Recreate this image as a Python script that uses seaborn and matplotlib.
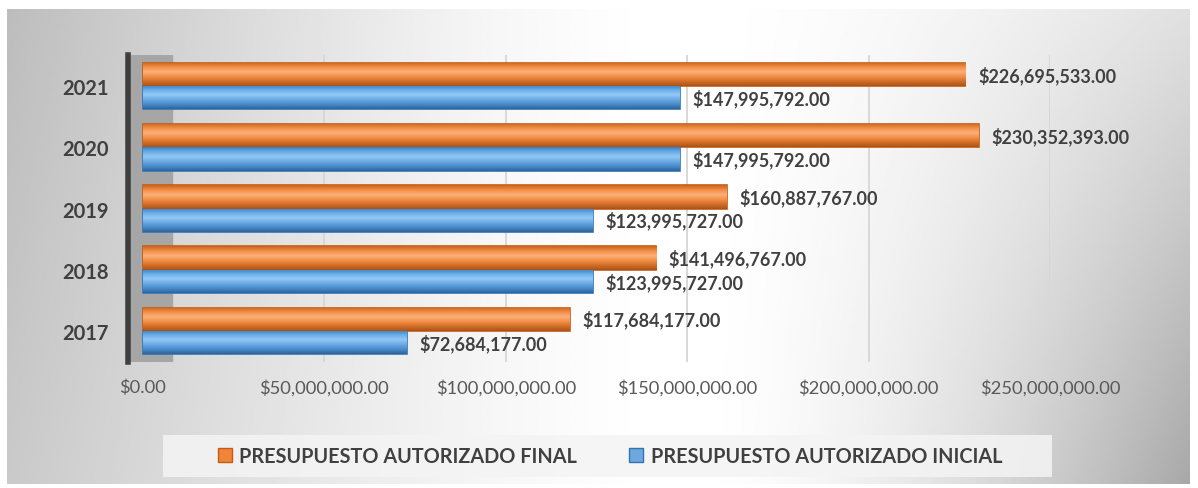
import numpy as np
import pandas as pd
import matplotlib
matplotlib.use("Agg")
import matplotlib.pyplot as plt
import seaborn as sns
from matplotlib.colors import LinearSegmentedColormap
from matplotlib.patches import Rectangle

# Data
years = ["2021", "2020", "2019", "2018", "2017"]
final_vals = [226695533.00, 230352393.00, 160887767.00, 141496767.00, 117684177.00]
inicial_vals = [147995792.00, 147995792.00, 123995727.00, 123995727.00, 72684177.00]
series = ["PRESUPUESTO AUTORIZADO FINAL", "PRESUPUESTO AUTORIZADO INICIAL"]
x_ticks = [0, 50000000, 100000000, 150000000, 200000000, 250000000]

df = pd.DataFrame({
    "year": years * 2,
    "value": final_vals + inicial_vals,
    "serie": [series[0]] * len(years) + [series[1]] * len(years),
})

sns.set_theme(style="white")
plt.rcParams["font.family"] = ["Lato", "DejaVu Sans"]

orange = "#F0853A"
blue = "#5FA3E0"
txt = "#404040"

fig = plt.figure(figsize=(11.98, 4.89), dpi=100)

# background panel with soft gray gradient
bg = fig.add_axes([7 / 1198, 4 / 489, 1183 / 1198, 475 / 489], zorder=0)
gx = np.linspace(0, 1, 400)
gy = np.linspace(0, 1, 200)
X, Y = np.meshgrid(gx, gy)
left_drop = 0.21 * np.clip((0.55 - X) / 0.55, 0, 1) ** 1.3
right_drop = np.clip((X - 0.58) / 0.42, 0, 1) ** 1.6 * (0.12 + 0.22 * Y)
top_drop = 0.05 * np.clip((0.4 - X) / 0.4, 0, 1) * (1 - Y)
shade = 1 - left_drop - right_drop - top_drop
bg.imshow(shade, cmap="gray", vmin=0, vmax=1, aspect="auto", extent=[0, 1, 1, 0])
bg.set_axis_off()

# main chart
ax = fig.add_axes([128 / 1198, 1 - 362.6 / 489, 922 / 1198, 306.2 / 489], zorder=1)
ax.patch.set_alpha(0)

sns.barplot(data=df, y="year", x="value", hue="serie", order=years,
            hue_order=series, palette=[orange, blue], orient="h",
            width=0.76, ax=ax, legend=False, saturation=1)

# side wall and vertical gridlines
xmin = -4.13e6
ax.axvspan(xmin, 8e6, color="#a6a6a6", zorder=0)
for t in x_ticks[1:]:
    ax.axvline(t, color="#d6d6d6", lw=1.3, zorder=0.5)

# cylinder-like shading on each bar
cmaps = [
    LinearSegmentedColormap.from_list("o", ["#C9651F", "#F48D45", "#FBB07A", "#F39048", "#D46E28", "#A9541A"]),
    LinearSegmentedColormap.from_list("b", ["#3C7FC0", "#6AAEEA", "#93C8F5", "#6BAAE4", "#4A8CCB", "#2F659C"]),
]
edges = ["#C55A11", "#2E75B6"]
grad = np.linspace(0, 1, 60).reshape(-1, 1)
for cont, cm, ec in zip(ax.containers, cmaps, edges):
    for p in cont.patches:
        p.set_edgecolor(ec)
        p.set_linewidth(1.2)
        x0, y0, w, h = p.get_x(), p.get_y(), p.get_width(), p.get_height()
        im = ax.imshow(grad, cmap=cm, aspect="auto", origin="upper",
                       extent=[x0, x0 + w, y0 + h, y0], zorder=p.get_zorder() + 0.1)
        im.set_clip_path(p)
    labels = [f"${v:,.2f}" for v in cont.datavalues]
    ax.bar_label(cont, labels=labels, padding=9, fontsize=13,
                 fontweight="bold", color=txt)

ax.set_xlim(xmin, 250e6)
ax.set_ylim(4.5, -0.5)
ax.set_xticks(x_ticks)
ax.set_xticklabels([f"${t:,.2f}" for t in x_ticks], fontsize=13.2, color="#595959")
ax.tick_params(axis="x", length=0, pad=12)
ax.tick_params(axis="y", length=0, pad=14)
for lab in ax.get_yticklabels():
    lab.set_fontsize(14.5)
    lab.set_fontweight("bold")
    lab.set_color(txt)
ax.set_xlabel("")
ax.set_ylabel("")
for s in ["top", "right", "bottom"]:
    ax.spines[s].set_visible(False)
ax.spines["left"].set_color("#3f3f3f")
ax.spines["left"].set_linewidth(4)

# legend with light box behind it
fig.patches.append(Rectangle((163 / 1198, 11 / 489), 889 / 1198, 42 / 489,
                             transform=fig.transFigure, facecolor="#f4f4f4",
                             edgecolor="none", alpha=0.85, zorder=1))
handles = [Rectangle((0, 0), 1, 1, facecolor=orange, edgecolor=edges[0]),
           Rectangle((0, 0), 1, 1, facecolor="#6FA8DC", edgecolor=edges[1])]
leg = fig.legend(handles, series, loc="center", bbox_to_anchor=(610 / 1198, 32 / 489),
                 ncol=2, frameon=False, fontsize=14.3, handlelength=0.7,
                 handleheight=0.7, handletextpad=0.4, columnspacing=2.6)
for t in leg.get_texts():
    t.set_fontweight("bold")
    t.set_color(txt)
leg.set_zorder(3)

fig.savefig("out.png", dpi=100)
